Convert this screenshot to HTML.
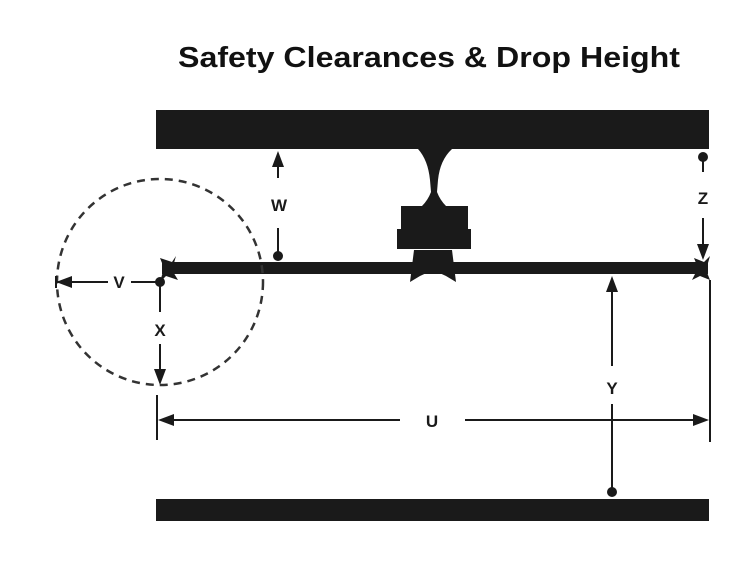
<!DOCTYPE html>
<html><head><style>
html,body{margin:0;padding:0;background:#fff;}
svg{display:block}
</style></head><body>
<svg width="750" height="586" viewBox="0 0 750 586" xmlns="http://www.w3.org/2000/svg">
<text x="178" y="67" font-family="Liberation Sans, sans-serif" font-weight="bold" font-size="29" textLength="502" lengthAdjust="spacingAndGlyphs" fill="#111">Safety Clearances &amp; Drop Height</text>
<g fill="#1a1a1a" stroke="none">
<rect x="156" y="110" width="553" height="39"/>
<rect x="156" y="499" width="553" height="22"/>
<rect x="162" y="262" width="546" height="12"/>
<!-- hanger -->
<path d="M418 149 L452 149 Q440 160 438 180 L437 192 Q440 200 446 206 L422 206 Q428 200 431 192 L430 180 Q428 160 418 149 Z"/>
<rect x="401" y="206" width="67" height="26"/>
<rect x="397" y="229" width="74" height="20"/>
<path d="M414 250 L452 250 L456 282 L446 276 L433 270 L420 276 L410 282 Z"/>
<!-- end fittings -->
<path d="M160 258 L172 262 L176 256 L172 270 L178 280 L166 276 L160 282 L164 268 Z"/>
<path d="M694 258 L704 262 L710 256 L706 270 L710 280 L700 276 L692 280 L698 268 Z"/>
<!-- dots -->
<circle cx="278" cy="256" r="5"/>
<circle cx="160" cy="282" r="5"/>
<circle cx="703" cy="157" r="5"/>
<circle cx="612" cy="492" r="5"/>
<!-- arrowheads -->
<path d="M278 151 L272 167 L284 167 Z"/>
<path d="M56 282 L72 276 L72 288 Z"/>
<path d="M160 385 L154 369 L166 369 Z"/>
<path d="M703 260 L697 244 L709 244 Z"/>
<path d="M612 276 L606 292 L618 292 Z"/>
<path d="M158 420 L174 414 L174 426 Z"/>
<path d="M709 420 L693 414 L693 426 Z"/>
</g>
<circle cx="160" cy="282" r="103" fill="none" stroke="#333" stroke-width="2.5" stroke-dasharray="8 6"/>
<g stroke="#1a1a1a" stroke-width="2" fill="none">
<line x1="278" y1="165" x2="278" y2="178"/>
<line x1="278" y1="228" x2="278" y2="254"/>
<line x1="56" y1="282" x2="108" y2="282"/>
<line x1="131" y1="282" x2="160" y2="282"/>
<line x1="56" y1="276" x2="56" y2="288"/>
<line x1="160" y1="282" x2="160" y2="312"/>
<line x1="160" y1="344" x2="160" y2="372"/>
<line x1="703" y1="160" x2="703" y2="172"/>
<line x1="703" y1="218" x2="703" y2="246"/>
<line x1="612" y1="290" x2="612" y2="366"/>
<line x1="612" y1="404" x2="612" y2="490"/>
<line x1="170" y1="420" x2="400" y2="420"/>
<line x1="465" y1="420" x2="697" y2="420"/>
<line x1="157" y1="395" x2="157" y2="440"/>
<line x1="710" y1="280" x2="710" y2="442"/>
</g>
<g font-family="Liberation Sans, sans-serif" font-weight="bold" font-size="17" fill="#1a1a1a" text-anchor="middle">
<text x="279" y="211">W</text>
<text x="119" y="288">V</text>
<text x="160" y="336">X</text>
<text x="703" y="204">Z</text>
<text x="612" y="394">Y</text>
<text x="432" y="427">U</text>
</g>
</svg>
</body></html>
